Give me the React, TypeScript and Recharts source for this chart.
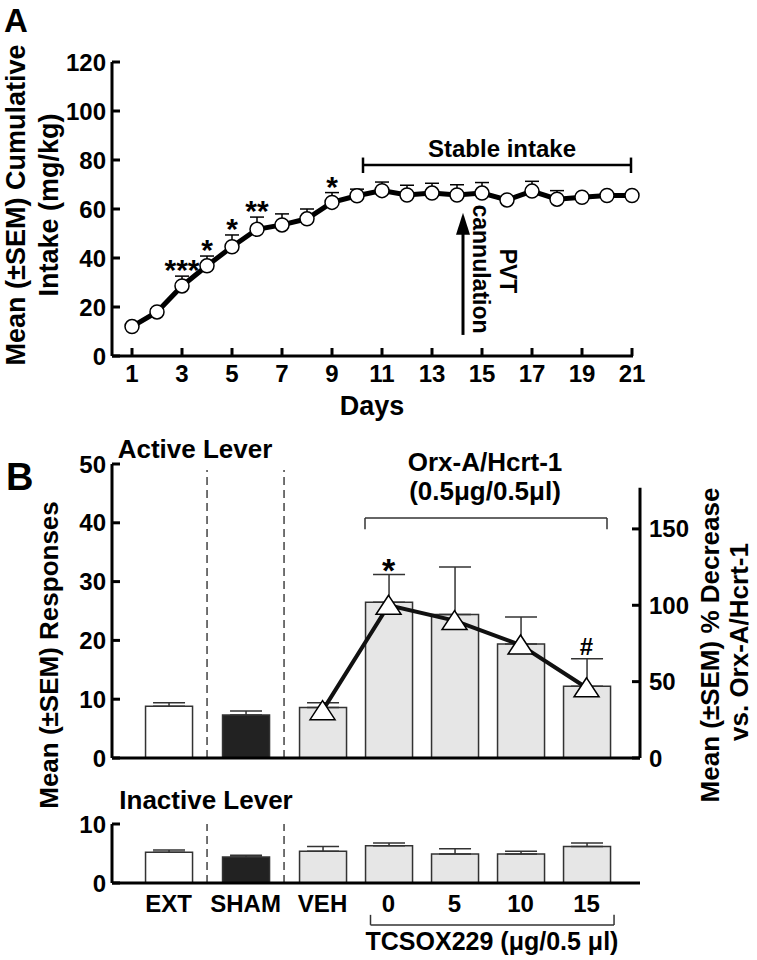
import React from 'react';
import { ComposedChart, Line, Bar, XAxis, YAxis, ErrorBar, ReferenceLine, LabelList, Cell } from 'recharts';

const FONT = "'Liberation Sans', Arial, Helvetica, sans-serif";

// ---- Panel A: cumulative intake over days
const days = [1, 2, 3, 4, 5, 6, 7, 8, 9, 10, 11, 12, 13, 14, 15, 16, 17, 18, 19, 20, 21];
const intake = [12, 18, 28.6, 36.8, 44.6, 51.7, 53.5, 56, 62.7, 65.4, 67.5, 65.7, 66.5, 65.7, 66.5, 63.7, 67.3, 64, 64.8, 65.5, 65.5];
const intakeSem = [1, 1.2, 4, 4, 4.8, 5, 4.5, 4, 4, 2.7, 3.5, 4, 4, 4.2, 4.3, 1, 4, 3.5, 1, 1, 1];
const intakeSig = ['', '', '***', '*', '*', '**', '', '', '*', '', '', '', '', '', '', '', '', '', '', '', ''];
const dayTicks = [1, 3, 5, 7, 9, 11, 13, 15, 17, 19, 21];
const intakeTicks = [0, 20, 40, 60, 80, 100, 120];

// ---- Panel B: lever responses
const groups = ['EXT', 'SHAM', 'VEH', '0', '5', '10', '15'];
const active = [8.8, 7.3, 8.6, 26.5, 24.4, 19.4, 12.2];
const activeSem = [0.6, 0.7, 0.8, 4.7, 8.1, 4.6, 4.7];
const activeSig = ['', '', '', '*', '', '', '#'];
const pctDecrease = [null, null, 31, 100, 90, 74, 46];
const inactive = [5.2, 4.4, 5.4, 6.3, 4.9, 4.9, 6.2];
const inactiveSem = [0.4, 0.3, 0.8, 0.5, 0.9, 0.5, 0.6];
const activeTicks = [0, 10, 20, 30, 40, 50];
const pctTicks = [0, 50, 100, 150];
const inactiveTicks = [0, 10];

// layout helpers (not data)
const slotOf = (i: number) => (i < 3 ? i * 7 : 14 + (i - 2) * 6);
const slots = groups.map((_, i) => slotOf(i));
const xDomB: [number, number] = [slots[0] - 5.14, slots[slots.length - 1] + 4.86];
const RIGHT_MAX = 192.5;

const barFill = (g: string) => (g === 'EXT' ? '#ffffff' : g === 'SHAM' ? '#222222' : '#e6e6e6');

const dataA = days.map((d, i) => ({
  day: d,
  intake: intake[i],
  sem: [0, intakeSem[i]],
  capTop: intake[i] + intakeSem[i],
  sig: intakeSig[i],
}));

const dataB = groups.map((g, i) => ({
  slot: slots[i],
  group: g,
  active: active[i],
  activeErr: [0, activeSem[i]],
  activeTop: active[i] + activeSem[i],
  sig: activeSig[i],
  pct: pctDecrease[i],
  inactive: inactive[i],
  inactiveErr: [0, inactiveSem[i]],
}));

const axisStyle = { stroke: '#000', strokeWidth: 3 };
const tickStyle = { fill: '#000', fontSize: 24, fontWeight: 700, fontFamily: FONT };

const starLabel = (props: any) => {
  const { x, y, value } = props;
  if (!value) return null;
  return (
    <text x={x} y={y + 4} textAnchor="middle" fontSize={30} fontWeight={700} fontFamily={FONT} fill="#000">
      {value}
    </text>
  );
};

const sigLabelB = (props: any) => {
  const { x, y, value } = props;
  if (!value) return null;
  const isHash = value === '#';
  return (
    <text
      x={x}
      y={isHash ? y - 4 : y + 7}
      textAnchor="middle"
      fontSize={isHash ? 24 : 34}
      fontWeight={700}
      fontFamily={FONT}
      fill="#000"
    >
      {value}
    </text>
  );
};

const Triangle = (props: any) => {
  const { cx, cy, value, index } = props;
  if (cx == null || cy == null || value == null) return <g key={`t-${index}`} />;
  return (
    <polygon
      key={`t-${index}`}
      points={`${cx},${cy - 10} ${cx - 12.5},${cy + 9} ${cx + 12.5},${cy + 9}`}
      fill="#fff"
      stroke="#000"
      strokeWidth={1.5}
    />
  );
};

const Arrow = (props: any) => {
  const { x1, y1, x2, y2 } = props;
  const top = Math.min(y1, y2);
  const bottom = Math.max(y1, y2);
  return (
    <g>
      <line x1={x1} y1={bottom} x2={x2} y2={top + 18} stroke="#000" strokeWidth={3} />
      <polygon points={`${x1},${top} ${x1 - 7},${top + 22} ${x1 + 7},${top + 22}`} fill="#000" />
    </g>
  );
};

const Label = ({ x, y, size = 26, anchor = 'middle', rotate = 0, children }: any) => (
  <text
    x={x}
    y={y}
    textAnchor={anchor}
    fontSize={size}
    fontWeight={700}
    fontFamily={FONT}
    fill="#000"
    transform={rotate ? `rotate(${rotate}, ${x}, ${y})` : undefined}
    dominantBaseline={rotate ? 'central' : undefined}
  >
    {children}
  </text>
);

export default function App() {
  return (
    <div style={{ position: 'absolute', left: 0, top: 0, width: 757, height: 960, background: '#fff', overflow: 'hidden' }}>
      {/* Panel A */}
      <div style={{ position: 'absolute', left: 0, top: 0 }}>
        <ComposedChart width={757} height={430} data={dataA} margin={{ top: 62, right: 124, bottom: 34, left: 52 }}>
          <XAxis
            type="number"
            dataKey="day"
            domain={[0.2, 21.04]}
            ticks={dayTicks}
            interval={0}
            height={40}
            tickSize={-8}
            tickMargin={17}
            axisLine={axisStyle}
            tickLine={axisStyle}
            tick={tickStyle}
          />
          <YAxis
            type="number"
            domain={[0, 120]}
            ticks={intakeTicks}
            interval={0}
            width={60}
            tickSize={-8}
            tickMargin={14}
            axisLine={axisStyle}
            tickLine={axisStyle}
            tick={tickStyle}
          />
          {/* Stable intake bracket */}
          <ReferenceLine segment={[{ x: 10.24, y: 78 }, { x: 20.96, y: 78 }]} stroke="#000" strokeWidth={2.5} ifOverflow="visible" />
          <ReferenceLine segment={[{ x: 10.24, y: 74.7 }, { x: 10.24, y: 81 }]} stroke="#000" strokeWidth={2.5} ifOverflow="visible" />
          <ReferenceLine segment={[{ x: 20.96, y: 74.7 }, { x: 20.96, y: 81 }]} stroke="#000" strokeWidth={2.5} ifOverflow="visible" />
          {/* PVT cannulation arrow */}
          <ReferenceLine segment={[{ x: 14.24, y: 8.6 }, { x: 14.24, y: 58.5 }]} shape={Arrow} ifOverflow="visible" />
          <Line
            dataKey="intake"
            stroke="#000"
            strokeWidth={5}
            dot={{ r: 7, fill: '#fff', stroke: '#000', strokeWidth: 1.5 }}
            activeDot={false}
            isAnimationActive={false}
          >
            <ErrorBar dataKey="sem" width={7} stroke="#000" strokeWidth={1.5} direction="y" />
          </Line>
          <Line dataKey="capTop" stroke="none" dot={false} activeDot={false} isAnimationActive={false}>
            <LabelList dataKey="sig" content={starLabel} />
          </Line>
        </ComposedChart>
      </div>

      {/* Panel B: active lever */}
      <div style={{ position: 'absolute', left: 0, top: 440 }}>
        <ComposedChart width={757} height={345} data={dataB} margin={{ top: 24, right: 57, bottom: 25, left: 52 }}>
          <XAxis type="number" dataKey="slot" domain={xDomB} height={2} tick={false} tickLine={false} axisLine={axisStyle} />
          <YAxis
            yAxisId="left"
            type="number"
            domain={[0, 50]}
            ticks={activeTicks}
            interval={0}
            width={60}
            tickSize={-8}
            tickMargin={14}
            axisLine={axisStyle}
            tickLine={axisStyle}
            tick={tickStyle}
          />
          <YAxis
            yAxisId="right"
            orientation="right"
            type="number"
            domain={[0, RIGHT_MAX]}
            ticks={pctTicks}
            interval={0}
            width={60}
            tickSize={-8}
            tickMargin={17}
            axisLine={false}
            tickLine={axisStyle}
            tick={tickStyle}
          />
          <ReferenceLine yAxisId="right" segment={[{ x: xDomB[1], y: 0 }, { x: xDomB[1], y: 177 }]} stroke="#000" strokeWidth={3} ifOverflow="visible" />
          <ReferenceLine yAxisId="left" segment={[{ x: (slots[0] + slots[1]) / 2, y: 0 }, { x: (slots[0] + slots[1]) / 2, y: 49 }]} stroke="#444" strokeWidth={1.5} strokeDasharray="8 5" ifOverflow="visible" />
          <ReferenceLine yAxisId="left" segment={[{ x: (slots[1] + slots[2]) / 2, y: 0 }, { x: (slots[1] + slots[2]) / 2, y: 49 }]} stroke="#444" strokeWidth={1.5} strokeDasharray="8 5" ifOverflow="visible" />
          {/* Orx-A bracket */}
          <ReferenceLine yAxisId="left" segment={[{ x: slots[3] - 2.14, y: 40.8 }, { x: slots[6] + 1.86, y: 40.8 }]} stroke="#333" strokeWidth={1.5} ifOverflow="visible" />
          <ReferenceLine yAxisId="left" segment={[{ x: slots[3] - 2.14, y: 40.8 }, { x: slots[3] - 2.14, y: 38.9 }]} stroke="#333" strokeWidth={1.5} ifOverflow="visible" />
          <ReferenceLine yAxisId="left" segment={[{ x: slots[6] + 1.86, y: 40.8 }, { x: slots[6] + 1.86, y: 38.9 }]} stroke="#333" strokeWidth={1.5} ifOverflow="visible" />
          <Bar yAxisId="left" dataKey="active" barSize={47} stroke="#333" strokeWidth={1.5} isAnimationActive={false}>
            {dataB.map((d, i) => (
              <Cell key={`a-${i}`} fill={barFill(d.group)} />
            ))}
            <ErrorBar dataKey="activeErr" width={16} stroke="#333" strokeWidth={1.5} direction="y" />
          </Bar>
          <Line yAxisId="right" dataKey="pct" stroke="#111" strokeWidth={4} dot={Triangle} activeDot={false} isAnimationActive={false} />
          <Line yAxisId="left" dataKey="activeTop" stroke="none" dot={false} activeDot={false} isAnimationActive={false}>
            <LabelList dataKey="sig" content={sigLabelB} />
          </Line>
        </ComposedChart>
      </div>

      {/* Panel B: inactive lever */}
      <div style={{ position: 'absolute', left: 0, top: 800 }}>
        <ComposedChart width={757} height={160} data={dataB} margin={{ top: 24, right: 117, bottom: 37, left: 52 }}>
          <XAxis
            type="number"
            dataKey="slot"
            domain={xDomB}
            ticks={slots}
            interval={0}
            height={40}
            tickSize={0}
            tickMargin={12}
            tickLine={false}
            axisLine={axisStyle}
            tick={{ ...tickStyle, fontSize: 24 }}
            tickFormatter={(v: number) => groups[slots.indexOf(v)]}
          />
          <YAxis
            type="number"
            domain={[0, 10]}
            ticks={inactiveTicks}
            interval={0}
            width={60}
            tickSize={-8}
            tickMargin={14}
            axisLine={axisStyle}
            tickLine={axisStyle}
            tick={tickStyle}
          />
          <ReferenceLine x={(slots[0] + slots[1]) / 2} stroke="#444" strokeWidth={1.5} strokeDasharray="8 5" />
          <ReferenceLine x={(slots[1] + slots[2]) / 2} stroke="#444" strokeWidth={1.5} strokeDasharray="8 5" />
          {/* TCSOX229 bracket */}
          <ReferenceLine segment={[{ x: slots[3] - 1.64, y: -7.1 }, { x: slots[6] + 2.5, y: -7.1 }]} stroke="#333" strokeWidth={1.5} ifOverflow="visible" />
          <ReferenceLine segment={[{ x: slots[3] - 1.64, y: -7.1 }, { x: slots[3] - 1.64, y: -5.4 }]} stroke="#333" strokeWidth={1.5} ifOverflow="visible" />
          <ReferenceLine segment={[{ x: slots[6] + 2.5, y: -7.1 }, { x: slots[6] + 2.5, y: -5.4 }]} stroke="#333" strokeWidth={1.5} ifOverflow="visible" />
          <Bar dataKey="inactive" barSize={47} stroke="#333" strokeWidth={1.5} isAnimationActive={false}>
            {dataB.map((d, i) => (
              <Cell key={`i-${i}`} fill={barFill(d.group)} />
            ))}
            <ErrorBar dataKey="inactiveErr" width={16} stroke="#333" strokeWidth={1.5} direction="y" />
          </Bar>
        </ComposedChart>
      </div>

      {/* text overlay */}
      <svg width={757} height={960} style={{ position: 'absolute', left: 0, top: 0, pointerEvents: 'none' }}>
        <Label x={4} y={32} size={33} anchor="start">A</Label>
        <Label x={16} y={205} size={27} rotate={-90}>Mean (±SEM) Cumulative</Label>
        <Label x={49} y={205} size={27} rotate={-90}>Intake (mg/kg)</Label>
        <Label x={372} y={415} size={27}>Days</Label>
        <Label x={502} y={157} size={24}>Stable intake</Label>
        <Label x={508} y={271} size={23} rotate={90}>PVT</Label>
        <Label x={481} y={269} size={23} rotate={90}>cannulation</Label>

        <Label x={6} y={490} size={38} anchor="start">B</Label>
        <Label x={195} y={458}>Active Lever</Label>
        <Label x={485} y={471}>Orx-A/Hcrt-1</Label>
        <Label x={485} y={500}>(0.5μg/0.5μl)</Label>
        <Label x={49} y={655} rotate={-90}>Mean (±SEM) Responses</Label>
        <Label x={710} y={645} size={26} rotate={-90}>Mean (±SEM) % Decrease</Label>
        <Label x={739} y={642} size={26} rotate={-90}>vs. Orx-A/Hcrt-1</Label>
        <Label x={206} y={809}>Inactive Lever</Label>
        <Label x={492} y={950} size={25}>TCSOX229 (μg/0.5 μl)</Label>
      </svg>
    </div>
  );
}
